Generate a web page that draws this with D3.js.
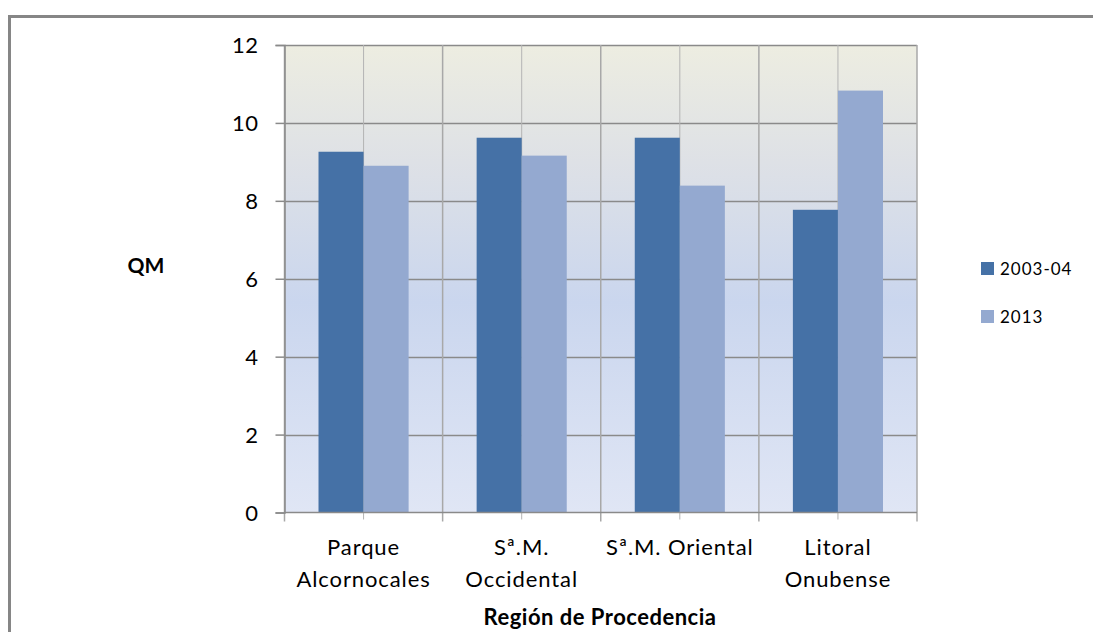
<!DOCTYPE html>
<html>
<head>
<meta charset="utf-8">
<script src="https://cdn.jsdelivr.net/npm/d3@7"></script>
<style>
  body { margin: 0; background: #fff; }
  text { font-family: Lato, "Open Sans", sans-serif; fill: #000; }
</style>
</head>
<body>
<svg id="chart" width="1093" height="632"></svg>
<script>
/* dados do grafico */
var categorias = ["Parque\nAlcornocales", "Sª.M.\nOccidental", "Sª.M. Oriental", "Litoral\nOnubense"];
var series = ["2003-04", "2013"];
var valores_2003 = [9.26, 9.62, 9.62, 7.77];
var valores_2013 = [8.90, 9.16, 8.39, 10.83];
var ticks_y = [0, 2, 4, 6, 8, 10, 12];
var cores = ["#4571A6", "#94A9D0"];

var svg = d3.select("#chart");
var pEsq = 284.5, pDir = 917, pTopo = 45, pBase = 512.5;

// borda externa
svg.append("rect")
  .attr("x", 9.5).attr("y", 16.5).attr("width", 1200).attr("height", 800)
  .attr("fill", "none").attr("stroke", "#868686").attr("stroke-width", 3);

// gradiente do fundo
var grad = svg.append("defs").append("linearGradient")
  .attr("id", "fundo").attr("x1", 0).attr("y1", 0).attr("x2", 0).attr("y2", 1);
grad.append("stop").attr("offset", "0%").attr("stop-color", "#EDEDE1");
grad.append("stop").attr("offset", "25%").attr("stop-color", "#DEE1E6");
grad.append("stop").attr("offset", "55%").attr("stop-color", "#CAD6EE");
grad.append("stop").attr("offset", "100%").attr("stop-color", "#E0E6F5");

svg.append("rect")
  .attr("x", pEsq).attr("y", pTopo).attr("width", pDir - pEsq).attr("height", pBase - pTopo)
  .attr("fill", "url(#fundo)");

var x0 = d3.scaleBand().domain(categorias).range([pEsq, pDir]).padding(0);
var x1 = d3.scaleBand().domain(series).range([0, x0.bandwidth()]).paddingInner(0).paddingOuter(0.755);
var y = d3.scaleLinear().domain([0, 12]).range([pBase, pTopo]);

// linhas de grade horizontais
svg.append("g").selectAll("line").data(ticks_y.slice(1)).enter().append("line")
  .attr("x1", pEsq).attr("x2", pDir)
  .attr("y1", function(d){ return Math.round(y(d)) + 0.5; })
  .attr("y2", function(d){ return Math.round(y(d)) + 0.5; })
  .attr("stroke", "#8A8A8A").attr("stroke-width", 1.5);

// linhas verticais: centro (claras) e limites (escuras)
svg.append("g").selectAll("line").data(categorias).enter().append("line")
  .attr("x1", function(d){ return x0(d) + x0.bandwidth() / 2; })
  .attr("x2", function(d){ return x0(d) + x0.bandwidth() / 2; })
  .attr("y1", pTopo).attr("y2", pBase + 7)
  .attr("stroke", "#B4B4B4").attr("stroke-width", 1);
var limites = categorias.map(function(d){ return x0(d); }).concat([pDir]);
svg.append("g").selectAll("line").data(limites).enter().append("line")
  .attr("x1", function(d){ return d; }).attr("x2", function(d){ return d; })
  .attr("y1", pTopo).attr("y2", pBase + 9)
  .attr("stroke", "#A8A8A8").attr("stroke-width", 1.5);

// barras
var linhas = categorias.map(function(c, i){ return {cat: c, vals: [valores_2003[i], valores_2013[i]]}; });
var grupos = svg.append("g").selectAll("g").data(linhas).enter().append("g")
  .attr("transform", function(d){ return "translate(" + x0(d.cat) + ",0)"; });
grupos.selectAll("rect").data(function(d){ return d.vals.map(function(v, j){ return {s: series[j], v: v, j: j}; }); })
  .enter().append("rect")
  .attr("x", function(d){ return x1(d.s); })
  .attr("width", x1.bandwidth())
  .attr("y", function(d){ return y(d.v); })
  .attr("height", function(d){ return pBase - y(d.v); })
  .attr("fill", function(d){ return cores[d.j]; });

// eixo y
var eixoY = svg.append("g").attr("transform", "translate(" + pEsq + ",0)")
  .call(d3.axisLeft(y).tickValues(ticks_y).tickSize(9).tickPadding(17).tickFormat(d3.format("d")));
eixoY.select(".domain").attr("stroke", "#8A8A8A").attr("stroke-width", 1.5);
eixoY.selectAll(".tick line").attr("stroke", "#8A8A8A").attr("stroke-width", 1.5);
eixoY.selectAll("text").style("font-family", "Lato, sans-serif").style("font-size", "22px")
  .style("letter-spacing", "0.5px").attr("fill", "#000").attr("dy", "0.36em");

// eixo x
svg.append("line").attr("x1", pEsq).attr("x2", pDir).attr("y1", pBase).attr("y2", pBase)
  .attr("stroke", "#8A8A8A").attr("stroke-width", 1.5);

// rotulos das categorias
var rot = svg.append("g").selectAll("text").data(categorias).enter().append("text")
  .attr("x", function(d){ return x0(d) + x0.bandwidth() / 2; })
  .attr("y", 555)
  .attr("text-anchor", "middle")
  .style("font-size", "22px").style("letter-spacing", "0.9px");
rot.selectAll("tspan").data(function(d){ return d.split("\n"); }).enter().append("tspan")
  .attr("x", function(){ var p = this.parentNode; return p.getAttribute("x"); })
  .attr("dy", function(d, i){ return i === 0 ? 0 : 32; })
  .text(function(d){ return d; });

// titulos dos eixos
svg.append("text").attr("x", 600).attr("y", 625).attr("text-anchor", "middle")
  .style("font-size", "22px").style("font-weight", "bold").style("letter-spacing", "0.5px")
  .text("Región de Procedencia");
svg.append("text").attr("x", 146).attr("y", 273).attr("text-anchor", "middle")
  .style("font-size", "21px").style("font-weight", "bold")
  .text("QM");

// legenda
var leg = svg.append("g").selectAll("g").data(series).enter().append("g")
  .attr("transform", function(d, i){ return "translate(981," + (262 + i * 48) + ")"; });
leg.append("rect").attr("width", 13).attr("height", 13)
  .attr("fill", function(d, i){ return cores[i]; });
leg.append("text").attr("x", 19).attr("y", 13)
  .style("font-size", "17px").style("letter-spacing", "1px")
  .text(function(d){ return d; });
</script>
</body>
</html>
